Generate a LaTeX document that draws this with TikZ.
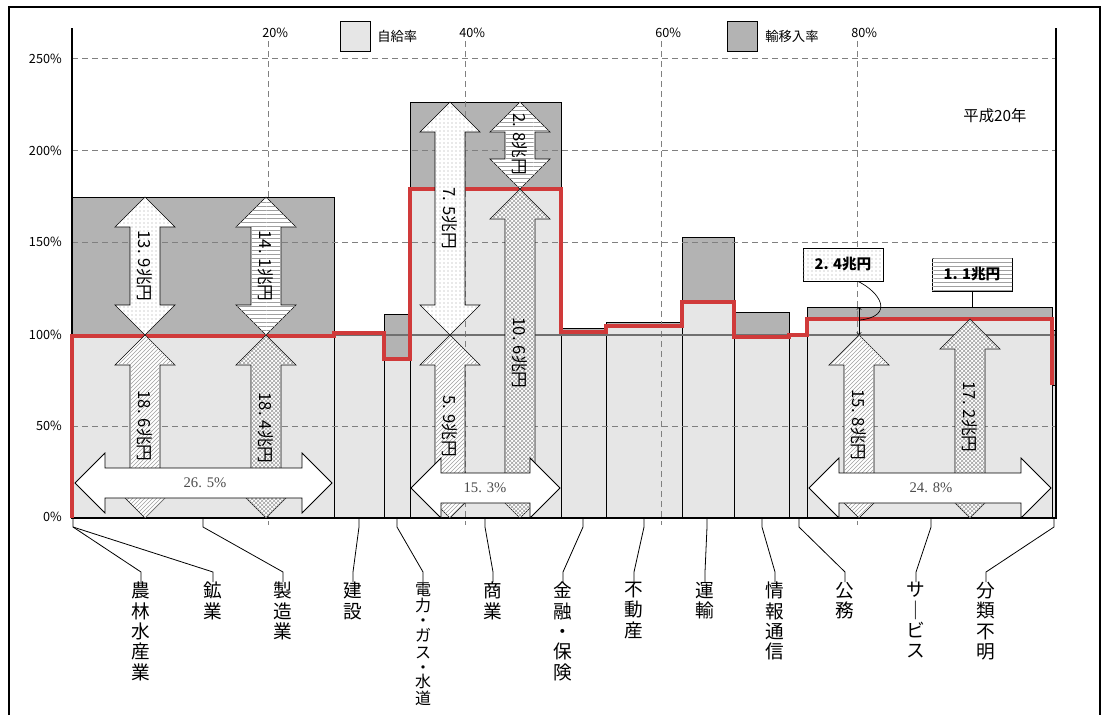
\documentclass[tikz,border=0pt]{standalone}
\usepackage{fontspec}
\setmainfont{Noto Sans CJK JP}
\newfontfamily\numserif{Liberation Serif}
\usetikzlibrary{patterns}

\definecolor{selfgray}{HTML}{E6E6E6}
\definecolor{importgray}{HTML}{B3B3B3}
\definecolor{ratered}{HTML}{D03A3A}
\definecolor{gridgray}{HTML}{808080}
\definecolor{linegray}{HTML}{707070}
\definecolor{patgray}{HTML}{A0A0A0}

% vertical double block arrow: x, y top, y bottom, pattern
\newcommand{\vbiarrow}[4]{%
  \draw[varrow=#4] (#1,#2) -- ({#1+30},{#2+30}) -- ({#1+15},{#2+30}) -- ({#1+15},{#3-30})
    -- ({#1+30},{#3-30}) -- (#1,#3) -- ({#1-30},{#3-30}) -- ({#1-15},{#3-30})
    -- ({#1-15},{#2+30}) -- ({#1-30},{#2+30}) -- cycle;}
% horizontal double block arrow: x left, x right, y
\newcommand{\hbiarrow}[3]{%
  \draw[harrow] (#1,#3) -- ({#1+30},{#3-30}) -- ({#1+30},{#3-15}) -- ({#2-30},{#3-15})
    -- ({#2-30},{#3-30}) -- (#2,#3) -- ({#2-30},{#3+30}) -- ({#2-30},{#3+15})
    -- ({#1+30},{#3+15}) -- ({#1+30},{#3+30}) -- cycle;}

\begin{document}
\begin{tikzpicture}[x=0.75pt, y=-0.75pt,
  bar/.style={draw=black, line width=0.7pt},
  gridline/.style={draw=gridgray, line width=0.7pt, dash pattern=on 4.5pt off 3pt},
  varrow/.style={draw=black, line width=0.5pt, fill=white, postaction={pattern=#1, pattern color=patgray}},
  harrow/.style={draw=black, line width=0.6pt, fill=white},
  amount/.style={rotate=-90, inner sep=0pt, font=\fontsize{12.5}{13}\selectfont},
  share/.style={inner sep=0pt, text=black!70, font=\numserif\fontsize{11}{11}\selectfont},
  ticklabel/.style={inner sep=0pt, font=\fontsize{9.5}{10}\selectfont},
  sector/.style={anchor=north, align=center, inner sep=0pt, font=\fontsize{14}{15.2}\selectfont},
  leader/.style={line width=0.6pt},
  callout/.style={draw=black, line width=0.6pt, fill=white, postaction={pattern=#1, pattern color=patgray},
    minimum width=60pt, minimum height=24.75pt, inner sep=0pt, font=\bfseries\fontsize{11}{11}\selectfont},
  legendbox/.style={draw=black, line width=0.7pt, minimum size=22.5pt, inner sep=0pt},
]
\useasboundingbox (0,0) rectangle (1104,715);
\draw[line width=0.8pt] (9,715) -- (9,7) -- (1100,7) -- (1100,715);

% bars: import part (dark) and self part (light)
\draw[bar, fill=importgray] (72,197) rectangle (334,518);
\draw[bar, fill=selfgray] (72,336) rectangle (334,518);
\draw[bar, fill=selfgray] (334,333) rectangle (384,518);
\draw[bar, fill=importgray] (384,314) rectangle (410,518);
\draw[bar, fill=selfgray] (384,359) rectangle (410,518);
\draw[bar, fill=importgray] (410,102) rectangle (561,518);
\draw[bar, fill=selfgray] (410,189) rectangle (561,518);
\draw[bar, fill=importgray] (561,328) rectangle (606,518);
\draw[bar, fill=selfgray] (561,332) rectangle (606,518);
\draw[bar, fill=importgray] (606,322) rectangle (682,518);
\draw[bar, fill=selfgray] (606,326) rectangle (682,518);
\draw[bar, fill=importgray] (682,237) rectangle (734,518);
\draw[bar, fill=selfgray] (682,302) rectangle (734,518);
\draw[bar, fill=importgray] (734,312) rectangle (789,518);
\draw[bar, fill=selfgray] (734,337) rectangle (789,518);
\draw[bar, fill=selfgray] (789,335) rectangle (807,518);
\draw[bar, fill=importgray] (807,307) rectangle (1052,518);
\draw[bar, fill=selfgray] (807,319) rectangle (1052,518);
\draw[bar, fill=importgray] (1052,330) rectangle (1055,518);
\draw[bar, fill=selfgray] (1052,385) rectangle (1055,518);

% grid
\foreach \gy in {58.5,150.4,242.3,426.1}
  \draw[gridline] (72,\gy) -- (1056,\gy);
\foreach \gx in {268,465,661,857}
  \draw[gridline] (\gx,41) -- (\gx,525);
\draw[linegray, line width=1.5pt] (72,334.5) -- (1056,334.5);
\draw[line width=0.8pt] (72,28) -- (72,518) -- (1056,518) -- (1056,28);

% self-sufficiency rate
\draw[ratered, line width=3pt] (72,518) -- (72,336) -- (334,336) -- (334,333) -- (384,333)
  -- (384,359) -- (410,359) -- (410,189) -- (561,189) -- (561,332) -- (606,332)
  -- (606,326) -- (682,326) -- (682,302) -- (734,302) -- (734,337) -- (789,337)
  -- (789,335) -- (807,335) -- (807,319) -- (1052,319) -- (1052,385);

% amounts
\vbiarrow{145}{197}{335}{dots}
\vbiarrow{145}{335}{518}{north east lines}
\vbiarrow{266}{197}{335}{horizontal lines}
\vbiarrow{266}{335}{518}{crosshatch}
\vbiarrow{450}{102}{335}{dots}
\vbiarrow{450}{335}{518}{north east lines}
\vbiarrow{520}{102}{189}{horizontal lines}
\vbiarrow{520}{189}{518}{crosshatch}
\vbiarrow{859}{335}{518}{north east lines}
\vbiarrow{970}{319}{518}{crosshatch}
\node[amount] (amt-mfg-in) at (145,266) {13. 9兆円};
\node[amount] (amt-mfg-self) at (145,426) {18. 6兆円};
\node[amount] (amt-mfg-out) at (266,266) {14. 1兆円};
\node[amount] (amt-mfg-dom) at (266,428) {18. 4兆円};
\node[amount] (amt-com-in) at (450,218) {7. 5兆円};
\node[amount] (amt-com-self) at (450,426) {5. 9兆円};
\node[amount] (amt-com-out) at (520,144) {2. 8兆円};
\node[amount] (amt-com-dom) at (520,353) {10. 6兆円};
\node[amount] (amt-srv-self) at (859,425) {15. 8兆円};
\node[amount] (amt-srv-dom) at (970,417) {17. 2兆円};

% shares
\hbiarrow{75}{332}{483}
\hbiarrow{411}{560}{488}
\hbiarrow{809}{1051}{488}
\node[share] (share-mfg) at (205,483) {26. 5\%};
\node[share] (share-com) at (485,488) {15. 3\%};
\node[share] (share-srv) at (931,488) {24. 8\%};

% callouts
\node[callout=dots] (call-pub) at (843,264.5) {2. 4兆円};
\node[callout=horizontal lines] (call-srv) at (972,274.5) {1. 1兆円};
\coordinate (pub-top) at (859,307);
\coordinate (pub-base) at (859,335);
\coordinate (pub-hook) at (860,320);
\coordinate (srv-top) at (972,307);
\draw[<->, line width=0.5pt] (pub-top) -- (pub-base);
\draw[line width=0.5pt] ([xshift=11.25pt]call-pub.south) .. controls (880,292) and (895,316) .. (pub-hook);
\draw[line width=0.5pt] (call-srv.south) -- (srv-top);

% legend
\node[legendbox, fill=selfgray] (leg-self) at (355.5,36) {};
\node[anchor=west, inner sep=0pt, font=\fontsize{10}{10}\selectfont] (leg-self-txt) at (377,36) {自給率};
\node[legendbox, fill=importgray] (leg-in) at (742,36) {};
\node[anchor=west, inner sep=0pt, font=\fontsize{10}{10}\selectfont] (leg-in-txt) at (765,36) {輸移入率};
\node[font=\fontsize{11.5}{12}\selectfont] (year) at (995,116) {平成20年};

% axis labels
\node[ticklabel, anchor=east] (y250) at (62,58.5) {250\%};
\node[ticklabel, anchor=east] (y200) at (62,150.4) {200\%};
\node[ticklabel, anchor=east] (y150) at (62,242.3) {150\%};
\node[ticklabel, anchor=east] (y100) at (62,334.5) {100\%};
\node[ticklabel, anchor=east] (y50) at (62,426.1) {50\%};
\node[ticklabel, anchor=east] (y0) at (62,517) {0\%};
\node[ticklabel, anchor=west] (x20) at (262,33) {20\%};
\node[ticklabel, anchor=west] (x40) at (459,33) {40\%};
\node[ticklabel, anchor=west] (x60) at (655,33) {60\%};
\node[ticklabel, anchor=west] (x80) at (851,33) {80\%};

% sectors
\node[sector] (sec-agri) at (141,582) {農\\林\\水\\産\\業};
\node[sector] (sec-mine) at (213,582) {鉱\\業};
\node[sector] (sec-mfg) at (283,582) {製\\造\\業};
\node[sector] (sec-cons) at (353,582) {建\\設};
\node[sector, font=\fontsize{12}{12.6}\selectfont] (sec-elec) at (423,582) {電\\力\\[-1.5pt]・\\[-1.5pt]ガ\\ス\\[-1.5pt]・\\[-1.5pt]水\\道};
\node[sector] (sec-com) at (493,582) {商\\業};
\node[sector] (sec-fin) at (563,582) {金\\融\\・\\保\\険};
\node[sector] (sec-real) at (634,582) {不\\動\\産};
\node[sector] (sec-tra) at (705,582) {運\\輸};
\node[sector] (sec-info) at (775,582) {情\\報\\通\\信};
\node[sector] (sec-pub) at (845,582) {公\\務};
\node[sector] (sec-srv) at (916,582) {サ\\｜\\ビ\\ス};
\node[sector] (sec-unk) at (986,582) {分\\類\\不\\明};

\coordinate (k-agri) at (73,518);
\coordinate (k-mfg) at (203,518);
\coordinate (k-cons) at (359,518);
\coordinate (k-elec) at (397,518);
\coordinate (k-com) at (485,518);
\coordinate (k-fin) at (583,518);
\coordinate (k-real) at (644,518);
\coordinate (k-tra) at (707,518);
\coordinate (k-info) at (762,518);
\coordinate (k-pub) at (799,518);
\coordinate (k-srv) at (931,518);
\coordinate (k-unk) at (1054,518);
\draw[leader] (k-agri) -- ++(0,9) -- (141,572) -- (sec-agri.north);
\draw[leader] (k-agri) ++(0,9) -- (213,572) -- (sec-mine.north);
\draw[leader] (k-mfg) -- ++(0,9) -- (283,572) -- (sec-mfg.north);
\draw[leader] (k-cons) -- ++(0,9) -- (353,572) -- (sec-cons.north);
\draw[leader] (k-elec) -- ++(0,9) -- (423,572) -- (sec-elec.north);
\draw[leader] (k-com) -- ++(0,9) -- (493,572) -- (sec-com.north);
\draw[leader] (k-fin) -- ++(0,9) -- (563,572) -- (sec-fin.north);
\draw[leader] (k-real) -- ++(0,9) -- (634,572) -- (sec-real.north);
\draw[leader] (k-tra) -- ++(0,9) -- (705,572) -- (sec-tra.north);
\draw[leader] (k-info) -- ++(0,9) -- (775,572) -- (sec-info.north);
\draw[leader] (k-pub) -- ++(0,9) -- (845,572) -- (sec-pub.north);
\draw[leader] (k-srv) -- ++(0,9) -- (916,572) -- (sec-srv.north);
\draw[leader] (k-unk) -- ++(0,9) -- (986,572) -- (sec-unk.north);
\end{tikzpicture}
\end{document}
